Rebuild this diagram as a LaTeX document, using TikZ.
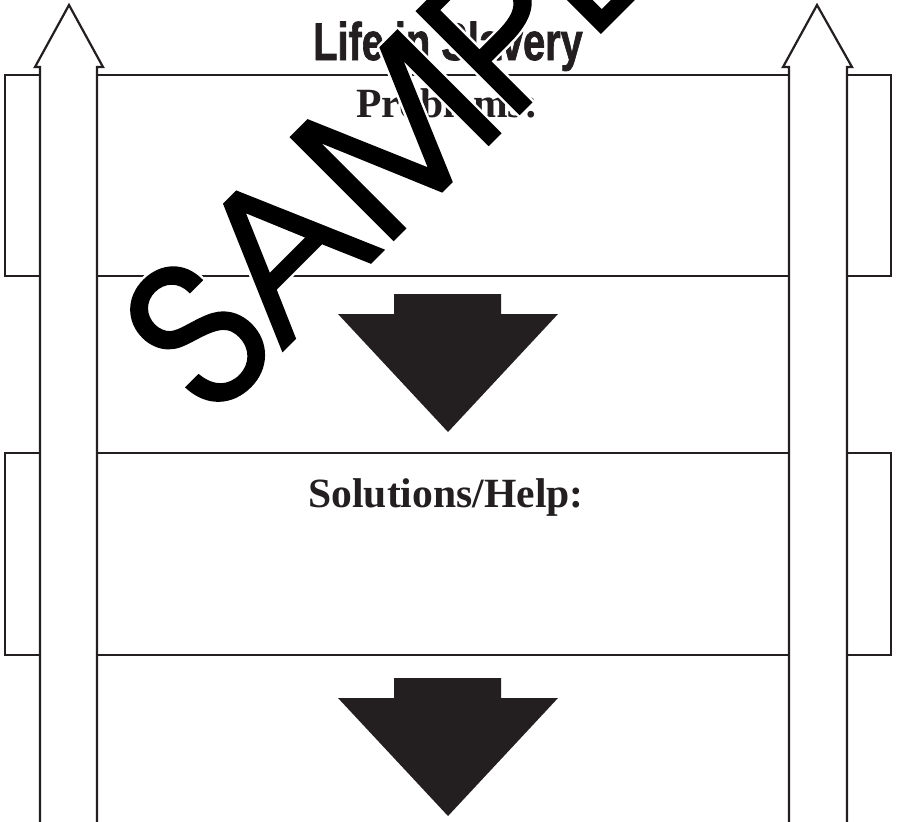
\documentclass[tikz,border=0pt]{standalone}
\usepackage{fontspec}
\setmainfont{Liberation Serif}
\newfontfamily\titlefont{Liberation Sans Bold}[FakeBold=1.6]
\newfontfamily\stampfont{texgyreadventor-regular.otf}[FakeBold=2]
\usetikzlibrary{calc}

\definecolor{ink}{RGB}{35,31,32}

\begin{document}
\begin{tikzpicture}[
  x=0.5pt, y=-0.5pt,
  edge/.style={draw=ink, line width=1.1pt, line join=miter},
  pointer/.style={fill=ink, draw=none},
  heading/.style={font=\fontsize{20.8}{24}\selectfont\bfseries, text=ink,
    inner sep=0pt, anchor=base},
  title/.style={font=\titlefont\fontsize{26.5}{30}\selectfont, text=ink,
    inner sep=0pt, anchor=base},
  stamp/.style={font=\stampfont\fontsize{97}{100}\selectfont, rotate=45,
    inner sep=0pt, anchor=base west}
]
\def\yA{75} \def\yB{276} \def\yC{453} \def\yD{655}
\clip (0,0) rectangle (897,821);

% rows
\foreach \y in {\yA,\yB,\yC,\yD}
  \draw[edge] (97,\y) -- (789,\y);

% side tabs
\draw[edge] (40,\yA) -| (5,\yB) -- (40,\yB);
\draw[edge] (40,\yC) -| (5,\yD) -- (40,\yD);
\draw[edge] (847,\yA) -| (891,\yB) -- (847,\yB);
\draw[edge] (847,\yC) -| (891,\yD) -- (847,\yD);

% up arrows
\draw[edge, fill=white] (40,840) -- (40,67) -- (35,67) -- (69,5) -- (103,67) -- (97,67) -- (97,840);
\draw[edge, fill=white] (789,840) -- (789,67) -- (783,67) -- (817,5) -- (852,67) -- (847,67) -- (847,840);

% down arrows
\foreach \t in {294,678}
  \fill[pointer] (394,\t) -- (501,\t) -- (501,\t+20) -- (558,\t+20) -- (448,\t+138)
    -- (338,\t+20) -- (394,\t+20) -- cycle;

\node[title] (title) at (448,60) {\scalebox{0.75}[1]{Life in Slavery}};
\node[heading] (prob) at (447,117) {Problems:};
\node[heading] (sol) at (446,507) {Solutions/Help:};

% watermark
\coordinate (wmbase) at (213,419);
\foreach \a in {0,30,...,330}
  \node[stamp, text=white] at ($(wmbase)+(\a:1.2pt)$) {SAMPLE};
\node[stamp, text=black] (wm) at (wmbase) {SAMPLE};
\end{tikzpicture}
\end{document}
